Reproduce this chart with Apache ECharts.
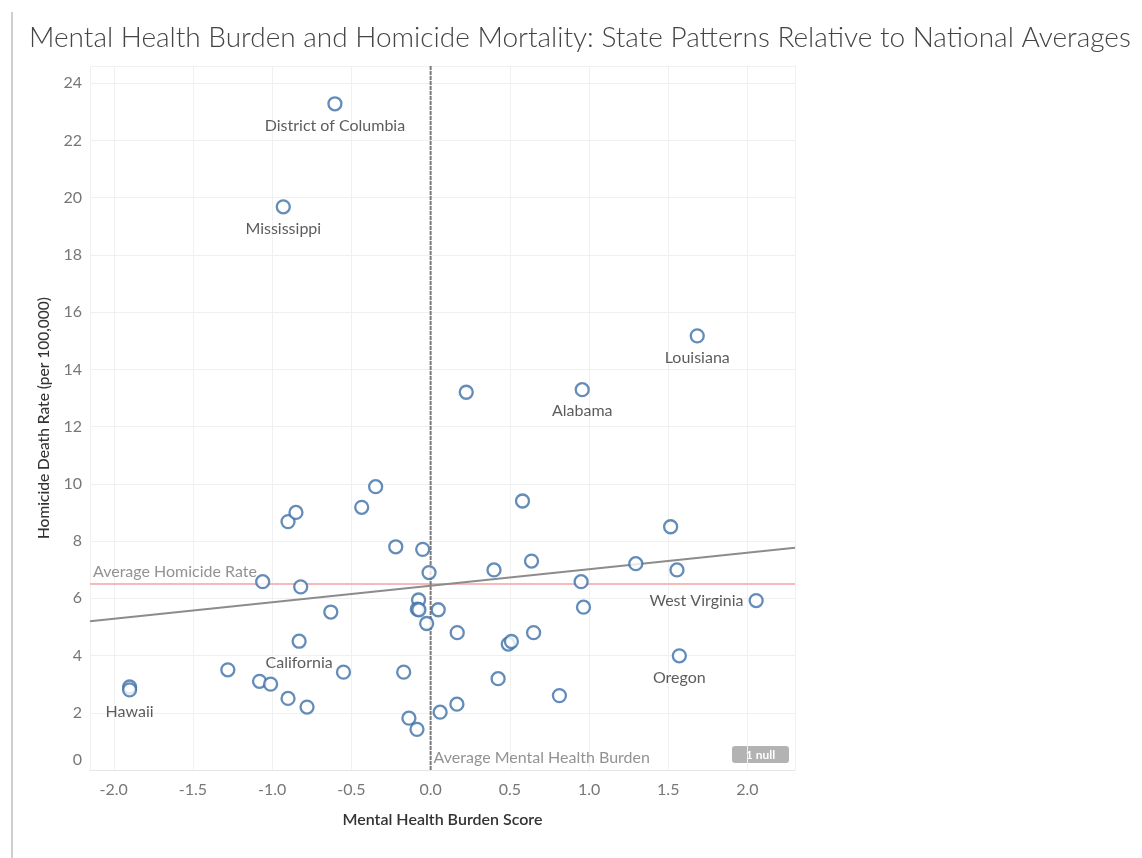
<!DOCTYPE html>
<html>
<head>
<meta charset="utf-8">
<script src="https://cdn.jsdelivr.net/npm/echarts@6/dist/echarts.min.js"></script>
<style>
html,body{margin:0;padding:0;background:#fff;}
#chart{width:1142px;height:858px;}
</style>
</head>
<body>
<div id="chart"></div>
<script>
// Mental health burden score (x) and homicide death rate per 100,000 (y)
const burdenScores = [
  -1.90, -1.90, -1.28, -1.08, -1.01, -0.90, -0.78, -0.83, -0.55, -1.06,
  -0.82, -0.63, -0.90, -0.85, -0.435, -0.347, -0.22, -0.05, -0.01, -0.076,
  -0.084, -0.074, -0.025, 0.048, -0.17, -0.137, -0.086, 0.06, 0.58, 1.515,
  0.40, 0.637, 1.295, 1.555, 0.95, 0.965, 2.055, 0.168, 0.49, 0.51,
  0.65, 1.57, 0.426, 0.813, 0.166, -0.604, -0.93, 1.683, 0.957, 0.225
];
const homicideRates = [
  2.9, 2.8, 3.5, 3.1, 3.0, 2.5, 2.2, 4.5, 3.42, 6.58,
  6.4, 5.52, 8.68, 9.0, 9.18, 9.9, 7.8, 7.71, 6.9, 5.94,
  5.62, 5.6, 5.12, 5.6, 3.42, 1.81, 1.42, 2.02, 9.4, 8.5,
  6.99, 7.3, 7.21, 6.99, 6.58, 5.69, 5.92, 4.8, 4.4, 4.49,
  4.8, 3.99, 3.19, 2.6, 2.3, 23.28, 19.68, 15.17, 13.29, 13.2
];
const stateNames = [
  '', 'Hawaii', '', '', '', '', '', 'California', '', '',
  '', '', '', '', '', '', '', '', '', '',
  '', '', '', '', '', '', '', '', '', '',
  '', '', '', '', '', '', 'West Virginia', '', '', '',
  '', 'Oregon', '', '', '', 'District of Columbia', 'Mississippi', 'Louisiana', 'Alabama', ''
];
const xTickLabels = ['-2.0','-1.5','-1.0','-0.5','0.0','0.5','1.0','1.5','2.0'];
const yTickLabels = ['0','2','4','6','8','10','12','14','16','18','20','22','24'];
const avgHomicideRate = 6.5;
const avgBurdenScore = 0.0;
const nullCount = 1;

const X_MIN = -2.15, X_MAX = 2.3, Y_MIN = 0, Y_MAX = 24.6;
const FONT = 'Lato, "Noto Sans", sans-serif';
const leftLabeled = ['West Virginia'];

// linear regression trend
const n = burdenScores.length;
let sx = 0, sy = 0, sxx = 0, sxy = 0;
for (let i = 0; i < n; i++) {
  sx += burdenScores[i]; sy += homicideRates[i];
  sxx += burdenScores[i] * burdenScores[i]; sxy += burdenScores[i] * homicideRates[i];
}
const slope = (n * sxy - sx * sy) / (n * sxx - sx * sx);
const intercept = (sy - slope * sx) / n;

const points = burdenScores.map((x, i) => {
  const item = { value: [x, homicideRates[i]], name: stateNames[i] };
  if (stateNames[i]) {
    const left = leftLabeled.indexOf(stateNames[i]) >= 0;
    item.label = {
      show: true,
      position: left ? 'left' : 'bottom',
      distance: left ? 5 : 6,
      formatter: '{b}',
      color: '#333',
      fontSize: 16,
      fontFamily: FONT
    };
  }
  return item;
});

const chart = echarts.init(document.getElementById('chart'));
chart.setOption({
  animation: false,
  backgroundColor: '#fff',
  title: {
    text: 'Mental Health Burden and Homicide Mortality: State Patterns Relative to National Averages',
    left: 24, top: 19,
    textStyle: { fontFamily: FONT, fontSize: 28, fontWeight: 300, color: '#444' }
  },
  grid: { left: 90, right: 347, top: 66, bottom: 88 },
  xAxis: {
    type: 'value', min: X_MIN, max: X_MAX, splitNumber: 9,
    name: 'Mental Health Burden Score', nameLocation: 'middle', nameGap: 42,
    nameTextStyle: { fontFamily: FONT, fontSize: 16, color: '#333', fontWeight: 600 },
    axisLine: { show: true, lineStyle: { color: '#e6e6e6', width: 1 } },
    axisTick: { show: false },
    splitLine: { show: true, lineStyle: { color: '#f0f0f0', width: 1 } },
    axisLabel: {
      showMinLabel: false, showMaxLabel: false, margin: 12,
      fontFamily: FONT, fontSize: 16, color: '#777',
      formatter: v => { const s = v.toFixed(1); return xTickLabels.indexOf(s) >= 0 ? s : ''; }
    }
  },
  yAxis: {
    type: 'value', min: Y_MIN, max: Y_MAX, splitNumber: 12,
    name: 'Homicide Death Rate (per 100,000)', nameLocation: 'middle', nameGap: 38,
    nameTextStyle: { fontFamily: FONT, fontSize: 15.5, color: '#333', fontWeight: 500 },
    axisLine: { show: true, lineStyle: { color: '#eeeeee', width: 1 } },
    axisTick: { show: false },
    splitLine: { show: true, lineStyle: { color: '#f0f0f0', width: 1 } },
    axisLabel: {
      showMaxLabel: false, margin: 8,
      fontFamily: FONT, fontSize: 16, color: '#777',
      formatter: v => {
        const s = String(Math.round(v));
        if (!(Math.abs(v - Math.round(v)) < 1e-6 && yTickLabels.indexOf(s) >= 0)) return '';
        return v === Y_MIN ? '{z|' + s + '}' : s;
      },
      rich: { z: { fontFamily: FONT, fontSize: 16, color: '#777', padding: [0, 0, 20, 0] } }
    }
  },
  series: [
    {
      type: 'line', name: 'avgH', z: 1, silent: true, symbol: 'none',
      data: [[X_MIN, avgHomicideRate], [X_MAX, avgHomicideRate]],
      lineStyle: { color: '#f4b9b9', width: 2 }
    },
    {
      type: 'line', name: 'avgB', z: 1, silent: true, symbol: 'none',
      data: [[avgBurdenScore, Y_MIN], [avgBurdenScore, Y_MAX]],
      lineStyle: { color: '#7a7a7a', width: 2, type: [4, 1] }
    },
    {
      type: 'line', name: 'trend', z: 2, silent: true, symbol: 'none',
      data: [[X_MIN, intercept + slope * X_MIN], [X_MAX, intercept + slope * X_MAX]],
      lineStyle: { color: '#8c8c8c', width: 2 }
    },
    {
      type: 'scatter', name: 'refLabels', z: 3, silent: true, symbolSize: 0,
      data: [
        { value: [X_MIN, avgHomicideRate], label: { show: true, formatter: 'Average Homicide Rate', position: 'right', offset: [-2, -12] } },
        { value: [avgBurdenScore, Y_MIN], label: { show: true, formatter: 'Average Mental Health Burden', position: 'right', offset: [-2, -12] } }
      ],
      label: { fontFamily: FONT, fontSize: 16, color: '#777' }
    },
    {
      type: 'scatter', name: 'states', z: 5,
      symbol: 'circle', symbolSize: 13,
      itemStyle: { color: '#ffffff', borderColor: '#3d6fa8', borderWidth: 2.3 },
      data: points
    }
  ],
  graphic: [
    { type: 'rect', left: 11, top: 12, shape: { width: 2, height: 846 }, style: { fill: '#cfcfcf' }, silent: true },
    {
      type: 'group', left: 732, top: 746, silent: true,
      children: [
        { type: 'rect', shape: { x: 0, y: 0, width: 57, height: 17, r: 3 }, style: { fill: '#b3b3b3' } },
        { type: 'text', x: 28.5, y: 9, style: { text: nullCount + ' null', fill: '#fff', fontFamily: FONT, fontSize: 12, fontWeight: 'bold', align: 'center', verticalAlign: 'middle' } }
      ]
    }
  ]
});
</script>
</body>
</html>
